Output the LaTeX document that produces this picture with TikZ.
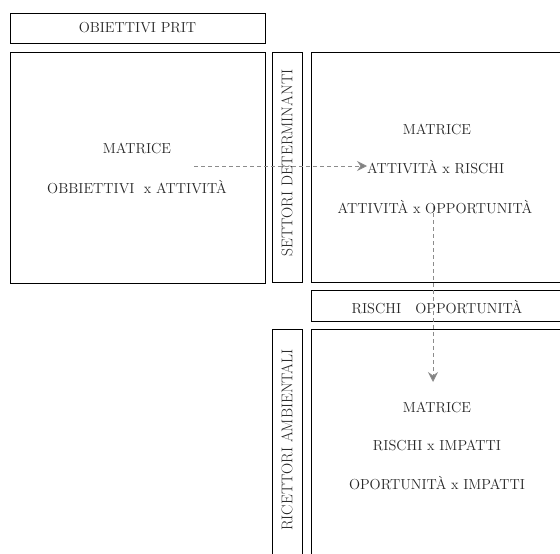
\documentclass[tikz,border=0pt]{standalone}
\usetikzlibrary{arrows.meta}
\begin{document}
\begin{tikzpicture}[x=1pt,y=-1pt,
  box/.style={draw=black,line width=0.9pt,rectangle,inner sep=0pt,fill=white},
  lbl/.style={inner sep=0pt,text=black!85,font=\fontsize{14.5}{17}\selectfont},
  flow/.style={draw=black!45,line width=0.9pt,dash pattern=on 4pt off 3pt,
    -{Stealth[length=10pt,width=10pt,inset=3.5pt,fill=black!50]}}]
\useasboundingbox (0,0) rectangle (560,554);
\clip (0,0) rectangle (560,554);
% boxes
\node[box,minimum width=255pt,minimum height=30pt] (prit) at (137.5,28) {};
\node[box,minimum width=255pt,minimum height=231pt] (mleft) at (137.5,167.5) {};
\node[box,minimum width=30pt,minimum height=230pt] (sett) at (287,167) {};
\node[box,minimum width=262pt,minimum height=230pt] (mright) at (442,167) {};
\node[box,minimum width=262pt,minimum height=31pt] (riop) at (442,305.5) {};
\node[box,minimum width=30pt,minimum height=240pt] (ricet) at (287,449) {};
\node[box,minimum width=262pt,minimum height=240pt] (mbot) at (442,449) {};
% texts
\node[lbl] (tprit) at (137.5,28) {OBIETTIVI PRIT};
\node[lbl] (tl1) at (137,148) {MATRICE};
\node[lbl] (tl2) at (137,187) {OBBIETTIVI\ \ x ATTIVIT\`A};
\node[lbl,rotate=90,font=\fontsize{15.5}{18}\selectfont] (tsett) at (287,163) {SETTORI DETERMINANTI};
\node[lbl] (tr1) at (437,129) {MATRICE};
\node[lbl,anchor=west] (tr2) at (367,167) {ATTIVIT\`A x RISCHI};
\node[lbl] (tr3) at (435,207) {ATTIVIT\`A x OPPORTUNIT\`A};
\node[lbl] (triop) at (437,307) {RISCHI\ \ \ OPPORTUNIT\`A};
\node[lbl,rotate=90,font=\fontsize{15.5}{18}\selectfont] (tricet) at (287,440) {RICETTORI AMBIENTALI};
\node[lbl] (tb1) at (437,407) {MATRICE};
\node[lbl] (tb2) at (437,445) {RISCHI x IMPATTI};
\node[lbl] (tb3) at (437,483) {OPORTUNIT\`A x IMPATTI};
% connectors
\coordinate (a1s) at (194,166);
\coordinate (a2s) at (433,206);
\coordinate (a2e) at (433,382);
\draw[flow] (a1s) -- (tr2.west |- a1s);
\draw[flow] (a2s) -- (a2e);
\end{tikzpicture}
\end{document}
